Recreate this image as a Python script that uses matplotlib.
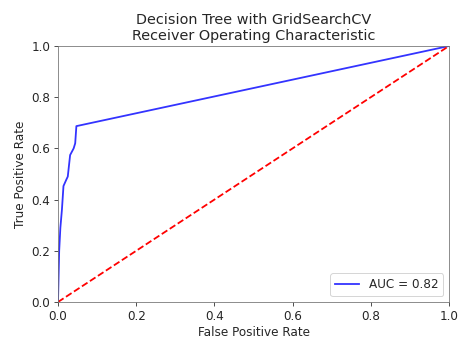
import matplotlib
matplotlib.use("Agg")
import matplotlib.pyplot as plt

# ROC points of the tuned decision tree
fpr = [0.0, 0.003, 0.006, 0.010, 0.014, 0.021, 0.025, 0.031, 0.040, 0.044, 0.047, 1.0]
tpr = [0.0, 0.20, 0.289, 0.36, 0.453, 0.477, 0.49, 0.574, 0.60, 0.62, 0.687, 1.0]
roc_auc = 0.82

text_col = '#262626'
plt.rcParams.update({
    'text.color': text_col,
    'axes.labelcolor': text_col,
    'xtick.color': text_col,
    'ytick.color': text_col,
    'axes.edgecolor': '0.45',
    'font.size': 12,
    'xtick.major.size': 4,
    'ytick.major.size': 4,
})

fig = plt.figure(figsize=(459 / 72, 339 / 72), dpi=72)
ax = fig.add_axes([58 / 459, 37 / 339, 391 / 459, 256 / 339])

ax.set_title('Decision Tree with GridSearchCV\nReceiver Operating Characteristic', fontsize=14.4)
ax.plot(fpr, tpr, 'b', label='AUC = %0.2f' % roc_auc, alpha=0.8, lw=1.8)
ax.legend(loc='lower right', fontsize=12)
ax.plot([0, 1], [0, 1], 'r--', lw=1.8)
ax.set_xlim([0, 1])
ax.set_ylim([0, 1])
ax.set_ylabel('True Positive Rate', fontsize=12)
ax.set_xlabel('False Positive Rate', fontsize=12)

fig.savefig('out.png', dpi=72)
